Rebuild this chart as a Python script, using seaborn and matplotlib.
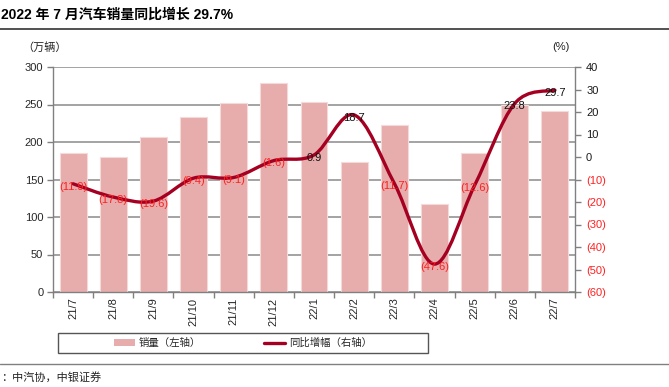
import numpy as np
import pandas as pd
import matplotlib
matplotlib.use("Agg")
import matplotlib.pyplot as plt
import seaborn as sns
from matplotlib.path import Path
from matplotlib.patches import PathPatch, Rectangle
from matplotlib.lines import Line2D

months = ["21/7", "21/8", "21/9", "21/10", "21/11", "21/12", "22/1",
          "22/2", "22/3", "22/4", "22/5", "22/6", "22/7"]
sales = [186, 180, 207, 233, 252, 279, 253, 173, 223, 118, 186, 250, 242]
yoy = [-11.9, -17.8, -19.6, -9.4, -9.1, -1.6, 0.9, 18.7, -11.7, -47.6, -12.6, 23.8, 29.7]
right_ticks = [-60, -50, -40, -30, -20, -10, 0, 10, 20, 30, 40]

BAR = "#E6ADAC"
LINE = "#A50021"
W, H = 669, 387

sns.set_theme(style="white")
plt.rcParams["font.family"] = ["Liberation Sans", "Noto Sans CJK SC", "DejaVu Sans"]

fig = plt.figure(figsize=(W / 100, H / 100), dpi=100)
ax = fig.add_axes([53 / W, 1 - 292 / H, 522 / W, 225 / H])

df = pd.DataFrame({"month": months, "sales": sales, "yoy": yoy})
sns.barplot(data=df, x="month", y="sales", ax=ax, color=BAR, saturation=1,
            width=0.67, edgecolor="#F5DADA", linewidth=0.8)
ax.set_xlim(-0.5, len(months) - 0.5)
ax.set_ylim(0, 300)
ax.set_yticks(range(0, 301, 50))
ax.set_xlabel("")
ax.set_ylabel("")
ax.yaxis.grid(True, color="#8a8a8a", lw=1.1)
ax.set_axisbelow(True)
ax.set_xticks(range(len(months)))
ax.set_xticklabels(months, rotation=90, fontsize=8)
ax.set_xticks(np.arange(-0.5, len(months), 1), minor=True)
ax.tick_params(axis="x", which="major", length=0, pad=4)
ax.tick_params(axis="x", which="minor", length=4, width=1, color="#808080", direction="out", bottom=True)
ax.tick_params(axis="y", length=4, width=1, color="#808080", direction="out", labelsize=8, pad=3, left=True)
for s in ["top", "right"]:
    ax.spines[s].set_visible(False)
for s in ["left", "bottom"]:
    ax.spines[s].set_color("#808080")
    ax.spines[s].set_linewidth(1)

ax2 = ax.twinx()
ax2.set_ylim(-60, 40)
ax2.set_yticks(right_ticks)
ax2.set_yticklabels([f"({-t})" if t < 0 else f"{t}" for t in right_ticks], fontsize=8)
for t, lab in zip(right_ticks, ax2.get_yticklabels()):
    lab.set_color("#FF2020" if t < 0 else "#1a1a1a")
ax2.tick_params(axis="y", length=4, width=1, color="#808080", direction="out", pad=4, right=True)
ax2.grid(False)
for s in ["top", "left", "bottom"]:
    ax2.spines[s].set_visible(False)
ax2.spines["right"].set_color("#808080")
ax2.spines["right"].set_linewidth(1)

# smoothed line (Bezier through data points, like Excel's smooth line)
xs = np.arange(len(yoy), dtype=float)
ys = np.array(yoy, dtype=float)
verts = [(xs[0], ys[0])]
codes = [Path.MOVETO]
n = len(xs)
for i in range(n - 1):
    p0 = (xs[max(i - 1, 0)], ys[max(i - 1, 0)])
    p1 = (xs[i], ys[i])
    p2 = (xs[i + 1], ys[i + 1])
    p3 = (xs[min(i + 2, n - 1)], ys[min(i + 2, n - 1)])
    c1 = (p1[0] + (p2[0] - p0[0]) / 6, p1[1] + (p2[1] - p0[1]) / 6)
    c2 = (p2[0] - (p3[0] - p1[0]) / 6, p2[1] - (p3[1] - p1[1]) / 6)
    verts += [c1, c2, p2]
    codes += [Path.CURVE4] * 3
ax2.add_patch(PathPatch(Path(verts, codes), facecolor="none", edgecolor=LINE, lw=2.4,
                        capstyle="round", joinstyle="round", zorder=3))

for i, v in enumerate(yoy):
    lab = f"({abs(v):.1f})" if v < 0 else f"{v:.1f}"
    ax2.annotate(lab, (i, v), xytext=(0, -2), textcoords="offset points",
                 ha="center", va="center", fontsize=8,
                 color="#FF2020" if v < 0 else "#111111", zorder=4)

# titles and decorations
fig.text(1 / W, 1 - 15 / H, "2022 年 7 月汽车销量同比增长 29.7%", fontsize=10,
         fontweight="bold", ha="left", va="center", color="#000000")
fig.add_artist(Line2D([0, 1], [1 - 29 / H] * 2, color="#333333", lw=1.2))
fig.text(22 / W, 1 - 48 / H, "（万辆）", fontsize=8, ha="left", va="center", color="#222222")
fig.text(552 / W, 1 - 47 / H, "(%)", fontsize=8, ha="left", va="center", color="#222222")

fig.add_artist(Rectangle((58 / W, 1 - 353 / H), 370 / W, 20 / H, transform=fig.transFigure,
                         facecolor="none", edgecolor="#555555", lw=1))
handles = [Rectangle((0, 0), 1, 1, facecolor=BAR, edgecolor="none"),
           Line2D([0], [0], color=LINE, lw=2.4)]
fig.legend(handles, ["销量（左轴）", "同比增幅（右轴）"], ncol=2, frameon=False,
           loc="center", bbox_to_anchor=(243 / W, 1 - 343 / H), fontsize=7.5,
           handlelength=2.0, handletextpad=0.4, columnspacing=6.0)

fig.add_artist(Line2D([0, 1], [1 - 364 / H] * 2, color="#808080", lw=1))
fig.text(1 / W, 1 - 377 / H, "：中汽协，中银证券", fontsize=8, style="italic",
         ha="left", va="center", color="#222222")

fig.savefig("out.png", dpi=100)
